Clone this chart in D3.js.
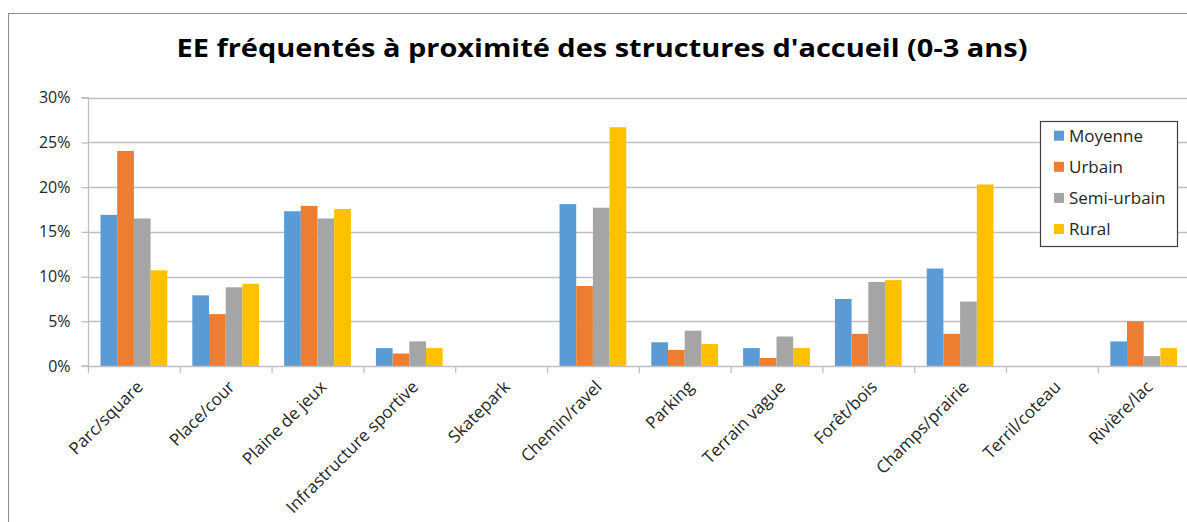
<!DOCTYPE html>
<html>
<head>
<meta charset="utf-8">
<script src="https://cdn.jsdelivr.net/npm/d3@7/dist/d3.min.js"></script>
<style>
  html, body { margin: 0; padding: 0; background: #fff; }
  svg { display: block; }
  text { font-family: "Open Sans", sans-serif; }
</style>
</head>
<body>
<svg id="chart" width="1187" height="522"></svg>
<script>
const categories = ["Parc/square", "Place/cour", "Plaine de jeux", "Infrastructure sportive", "Skatepark", "Chemin/ravel", "Parking", "Terrain vague", "Forêt/bois", "Champs/prairie", "Terril/coteau", "Rivière/lac"];
const seriesNames = ["Moyenne", "Urbain", "Semi-urbain", "Rural"];
const moyenne   = [16.9, 7.9, 17.3, 2.0, 0, 18.1, 2.65, 2.0, 7.5, 10.9, 0, 2.75];
const urbain    = [24.05, 5.8, 17.9, 1.4, 0, 8.95, 1.8, 0.9, 3.6, 3.6, 0, 5.0];
const semiUrbain= [16.5, 8.8, 16.5, 2.75, 0, 17.7, 3.95, 3.3, 9.4, 7.2, 0, 1.1];
const rural     = [10.7, 9.2, 17.55, 2.0, 0, 26.7, 2.45, 2.0, 9.6, 20.3, 0, 2.0];
const yTicks = [0, 5, 10, 15, 20, 25, 30];
const colors = ["#5B9BD5", "#ED7D31", "#A5A5A5", "#FFC000"];
const title = "EE fréquentés à proximité des structures d'accueil (0-3 ans)";

const seriesValues = [moyenne, urbain, semiUrbain, rural];

const svg = d3.select("#chart");

// outer chart border (extends beyond right/bottom edges)
svg.append("rect")
  .attr("x", 8.5).attr("y", 13.5)
  .attr("width", 1200).attr("height", 600)
  .attr("fill", "#fff").attr("stroke", "#8c8c8c").attr("stroke-width", 1);

const x0 = 88, x1 = 88 + 12 * 91.8;
const yTop = 97.7, yBot = 366;

const x = d3.scaleBand().domain(categories).range([x0, x1]).paddingInner(0).paddingOuter(0);
const bw = x.bandwidth();
const barW = bw / 5.5;
const xs = d3.scaleBand().domain(seriesNames).range([barW * 0.75, bw - barW * 0.75]).padding(0);
const y = d3.scaleLinear().domain([0, 30]).range([yBot, yTop]);

// gridlines
svg.append("g").selectAll("line").data(yTicks.filter(d => d > 0)).join("line")
  .attr("x1", x0).attr("x2", 1200)
  .attr("y1", d => Math.round(y(d)) + 0.5).attr("y2", d => Math.round(y(d)) + 0.5)
  .attr("stroke", "#bfbfbf").attr("stroke-width", 1.3);

// bars
const g = svg.append("g");
categories.forEach((c, i) => {
  seriesNames.forEach((s, j) => {
    const v = seriesValues[j][i];
    if (v <= 0) return;
    g.append("rect")
      .attr("x", x(c) + xs(s))
      .attr("y", y(v))
      .attr("width", xs.bandwidth())
      .attr("height", yBot - y(v))
      .attr("fill", colors[j]);
  });
});

// y axis
const yAxis = d3.axisLeft(y).tickValues(yTicks).tickSize(7).tickPadding(11).tickFormat(d => d + "%");
const ya = svg.append("g").attr("transform", `translate(${x0 + 0.5},0)`).call(yAxis);
ya.select(".domain").attr("stroke", "#bfbfbf").attr("stroke-width", 1.3).attr("d", `M-7,${yTop}H0V${yBot}H-7`);
ya.selectAll(".tick line").attr("stroke", "#bfbfbf").attr("stroke-width", 1.3);
ya.selectAll(".tick text").attr("fill", "#262626").style("font-size", "16px").style("font-family", "'Open Sans', sans-serif");

// x axis
const xAxis = d3.axisBottom(x).tickSize(0).tickFormat("");
const xa = svg.append("g").attr("transform", `translate(0,${yBot + 0.5})`).call(xAxis);
xa.select(".domain").attr("stroke", "#bfbfbf").attr("stroke-width", 1.3).attr("d", `M${x0},0H1200`);
xa.selectAll(".tick").remove();
// boundary ticks
const bounds = categories.map(c => x(c));
svg.append("g").selectAll("line").data(bounds).join("line")
  .attr("x1", d => d + 0.5).attr("x2", d => d + 0.5)
  .attr("y1", yBot).attr("y2", yBot + 7)
  .attr("stroke", "#bfbfbf").attr("stroke-width", 1.3);

// category labels
svg.append("g").selectAll("text").data(categories).join("text")
  .attr("transform", d => `translate(${x(d) + bw / 2 + 10},${yBot + 22}) rotate(-45)`)
  .attr("text-anchor", "end")
  .attr("fill", "#262626")
  .style("font-size", "17px")
  .text(d => d);

// title
svg.append("text")
  .attr("x", 602).attr("y", 57)
  .attr("text-anchor", "middle")
  .attr("textLength", 851).attr("lengthAdjust", "spacingAndGlyphs")
  .attr("fill", "#000")
  .style("font-size", "25px").style("font-weight", "bold")
  .text(title);

// legend
const lg = svg.append("g");
lg.append("rect").attr("x", 1040.5).attr("y", 121.5).attr("width", 137).attr("height", 125)
  .attr("fill", "#fff").attr("stroke", "#404040").attr("stroke-width", 1.2);
const ly = d3.scalePoint().domain(seriesNames).range([135.7, 229]);
seriesNames.forEach((s, j) => {
  lg.append("rect").attr("x", 1054).attr("y", ly(s) - 5).attr("width", 10).attr("height", 10).attr("fill", colors[j]);
  lg.append("text").attr("x", 1069).attr("y", ly(s) + 6).attr("fill", "#262626")
    .style("font-size", "17px").text(s);
});
</script>
</body>
</html>
